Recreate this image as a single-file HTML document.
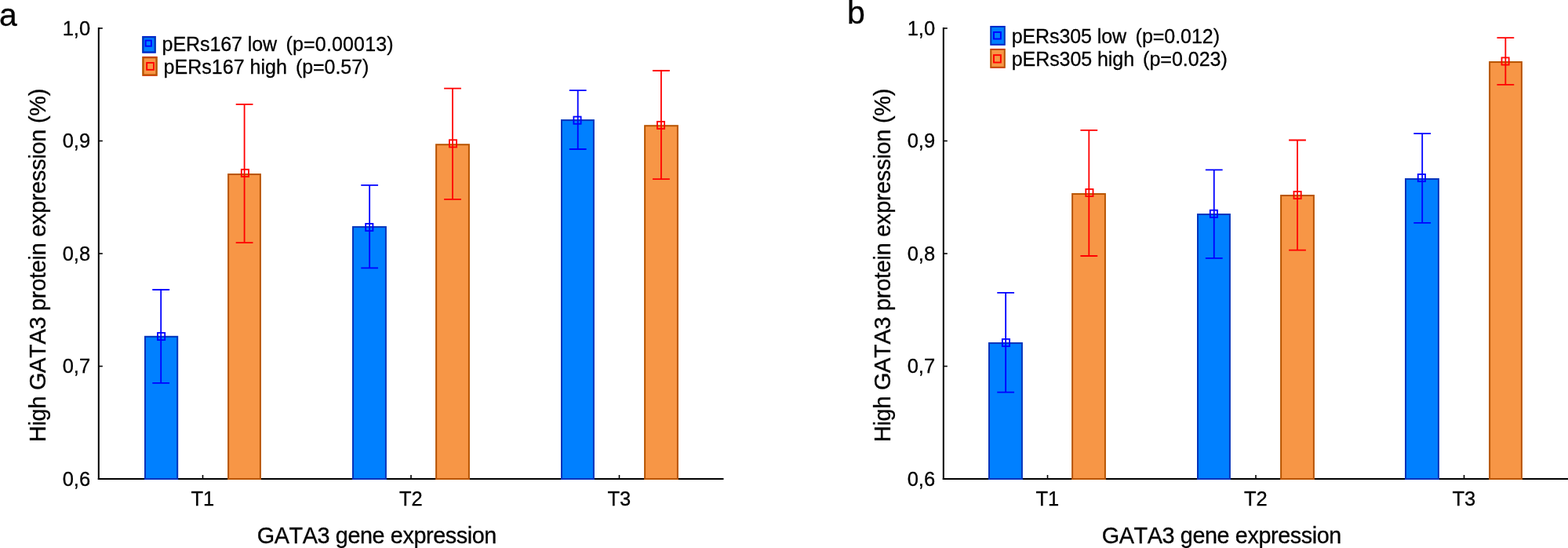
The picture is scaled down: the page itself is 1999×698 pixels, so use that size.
<!DOCTYPE html>
<html><head><meta charset="utf-8"><title>GATA3 protein expression</title>
<style>
html,body{margin:0;padding:0;background:#fff;}
body{width:1999px;height:698px;overflow:hidden;}
svg{display:block;}
text{font-family:'Liberation Sans', Arial, Helvetica, sans-serif;fill:#000;font-kerning:none;stroke:#000;stroke-width:0.3px;}
</style></head><body>
<svg width="1999" height="698" viewBox="0 0 1999 698">
<line x1="125.8" y1="35" x2="125.8" y2="611" stroke="#000" stroke-width="2"/>
<line x1="124.8" y1="610" x2="922.5" y2="610" stroke="#000" stroke-width="2"/>
<line x1="125.8" y1="36" x2="130.8" y2="36" stroke="#000" stroke-width="1.6"/>
<text x="115.1" y="44.6" font-size="25.5" text-anchor="end">1,0</text>
<line x1="125.8" y1="179.5" x2="130.8" y2="179.5" stroke="#000" stroke-width="1.6"/>
<text x="115.1" y="188.1" font-size="25.5" text-anchor="end">0,9</text>
<line x1="125.8" y1="323" x2="130.8" y2="323" stroke="#000" stroke-width="1.6"/>
<text x="115.1" y="331.6" font-size="25.5" text-anchor="end">0,8</text>
<line x1="125.8" y1="466.5" x2="130.8" y2="466.5" stroke="#000" stroke-width="1.6"/>
<text x="115.1" y="475.1" font-size="25.5" text-anchor="end">0,7</text>
<line x1="125.8" y1="610" x2="130.8" y2="610" stroke="#000" stroke-width="1.6"/>
<text x="115.1" y="618.6" font-size="25.5" text-anchor="end">0,6</text>
<line x1="258.5" y1="610" x2="258.5" y2="605" stroke="#000" stroke-width="1.6"/>
<text x="258.3" y="644" font-size="25.5" text-anchor="middle">T1</text>
<line x1="524" y1="610" x2="524" y2="605" stroke="#000" stroke-width="1.6"/>
<text x="523.8" y="644" font-size="25.5" text-anchor="middle">T2</text>
<line x1="789.5" y1="610" x2="789.5" y2="605" stroke="#000" stroke-width="1.6"/>
<text x="789.3" y="644" font-size="25.5" text-anchor="middle">T3</text>
<text transform="translate(57.9,563.1) rotate(-90)" font-size="28.8" textLength="450.33" lengthAdjust="spacing">High GATA3 protein expression (%)</text>
<text x="327.79" y="691.9" font-size="28.8" textLength="305.58" lengthAdjust="spacing">GATA3 gene expression</text>
<text x="-1.1" y="33" font-size="41">a</text>
<rect x="185" y="428.8" width="41.2" height="181.2" fill="#0080ff" stroke="#0033bb" stroke-width="2"/>
<path d="M205.2 369V487.8M194.3 369H216.1M194.3 487.8H216.1" stroke="#0000ff" stroke-width="1.8" fill="none"/>
<rect x="201" y="423.9" width="9.2" height="9.2" fill="none" stroke="#0000ff" stroke-width="1.8"/>
<rect x="291.1" y="222.05" width="40.8" height="387.95" fill="#f79646" stroke="#b85400" stroke-width="2"/>
<path d="M311.6 132.9V309.1M300.7 132.9H322.5M300.7 309.1H322.5" stroke="#ff0000" stroke-width="1.8" fill="none"/>
<rect x="307.8" y="215.8" width="9.2" height="9.2" fill="none" stroke="#ff0000" stroke-width="1.8"/>
<rect x="450" y="289.1" width="41.9" height="320.9" fill="#0080ff" stroke="#0033bb" stroke-width="2"/>
<path d="M471.15 235.9V341.3M460.25 235.9H482.05M460.25 341.3H482.05" stroke="#0000ff" stroke-width="1.8" fill="none"/>
<rect x="466.2" y="284.9" width="9.2" height="9.2" fill="none" stroke="#0000ff" stroke-width="1.8"/>
<rect x="556.1" y="184.2" width="41.8" height="425.8" fill="#f79646" stroke="#b85400" stroke-width="2"/>
<path d="M577 112.7V253.8M566.1 112.7H587.9M566.1 253.8H587.9" stroke="#ff0000" stroke-width="1.8" fill="none"/>
<rect x="572.9" y="178.25" width="9.2" height="9.2" fill="none" stroke="#ff0000" stroke-width="1.8"/>
<rect x="716" y="153.1" width="40.9" height="456.9" fill="#0080ff" stroke="#0033bb" stroke-width="2"/>
<path d="M736.7 115.1V190M725.8 115.1H747.6M725.8 190H747.6" stroke="#0000ff" stroke-width="1.8" fill="none"/>
<rect x="731.4" y="148.6" width="9.2" height="9.2" fill="none" stroke="#0000ff" stroke-width="1.8"/>
<rect x="822.1" y="160.2" width="41.8" height="449.8" fill="#f79646" stroke="#b85400" stroke-width="2"/>
<path d="M842.9 90V228.1M832 90H853.8M832 228.1H853.8" stroke="#ff0000" stroke-width="1.8" fill="none"/>
<rect x="837.9" y="154.85" width="9.2" height="9.2" fill="none" stroke="#ff0000" stroke-width="1.8"/>
<rect x="182.3" y="47.2" width="15.4" height="19.3" fill="#0080ff" stroke="#0033bb" stroke-width="2.4"/>
<path d="M181.7 46.4H198.3M181.7 67.3H198.3" stroke="#0000ff" stroke-width="0.8" stroke-opacity="0.55" fill="none"/>
<rect x="185.65" y="51.55" width="7.2" height="7.2" fill="none" stroke="#0000ff" stroke-width="1.9"/>
<text x="206.58" y="64.9" font-size="25" textLength="146.48" lengthAdjust="spacing">pERs167 low</text>
<text x="364.58" y="64.9" font-size="25" textLength="137.01" lengthAdjust="spacing">(p=0.00013)</text>
<rect x="182.4" y="73.2" width="17.2" height="22.4" fill="#f79646" stroke="#b85400" stroke-width="2.4"/>
<path d="M181.8 72.4H200.2M181.8 96.4H200.2" stroke="#ff0000" stroke-width="0.8" stroke-opacity="0.55" fill="none"/>
<rect x="187.15" y="79.95" width="8.8" height="8.9" fill="none" stroke="#ff0000" stroke-width="1.9"/>
<text x="208.58" y="93.9" font-size="25" textLength="157.33" lengthAdjust="spacing">pERs167 high</text>
<text x="376.88" y="93.9" font-size="25" textLength="93.45" lengthAdjust="spacing">(p=0.57)</text>
<line x1="1202.8" y1="35" x2="1202.8" y2="611" stroke="#000" stroke-width="2"/>
<line x1="1201.8" y1="610" x2="1999.5" y2="610" stroke="#000" stroke-width="2"/>
<line x1="1202.8" y1="36" x2="1207.8" y2="36" stroke="#000" stroke-width="1.6"/>
<text x="1192.1" y="44.6" font-size="25.5" text-anchor="end">1,0</text>
<line x1="1202.8" y1="179.5" x2="1207.8" y2="179.5" stroke="#000" stroke-width="1.6"/>
<text x="1192.1" y="188.1" font-size="25.5" text-anchor="end">0,9</text>
<line x1="1202.8" y1="323" x2="1207.8" y2="323" stroke="#000" stroke-width="1.6"/>
<text x="1192.1" y="331.6" font-size="25.5" text-anchor="end">0,8</text>
<line x1="1202.8" y1="466.5" x2="1207.8" y2="466.5" stroke="#000" stroke-width="1.6"/>
<text x="1192.1" y="475.1" font-size="25.5" text-anchor="end">0,7</text>
<line x1="1202.8" y1="610" x2="1207.8" y2="610" stroke="#000" stroke-width="1.6"/>
<text x="1192.1" y="618.6" font-size="25.5" text-anchor="end">0,6</text>
<line x1="1335.5" y1="610" x2="1335.5" y2="605" stroke="#000" stroke-width="1.6"/>
<text x="1335.3" y="644" font-size="25.5" text-anchor="middle">T1</text>
<line x1="1601" y1="610" x2="1601" y2="605" stroke="#000" stroke-width="1.6"/>
<text x="1600.8" y="644" font-size="25.5" text-anchor="middle">T2</text>
<line x1="1866.5" y1="610" x2="1866.5" y2="605" stroke="#000" stroke-width="1.6"/>
<text x="1866.3" y="644" font-size="25.5" text-anchor="middle">T3</text>
<text transform="translate(1134.9,563.1) rotate(-90)" font-size="28.8" textLength="450.33" lengthAdjust="spacing">High GATA3 protein expression (%)</text>
<text x="1404.79" y="691.9" font-size="28.8" textLength="305.58" lengthAdjust="spacing">GATA3 gene expression</text>
<text x="1080" y="30" font-size="41">b</text>
<rect x="1261" y="437.05" width="41.9" height="172.95" fill="#0080ff" stroke="#0033bb" stroke-width="2"/>
<path d="M1282.15 372.9V499.7M1271.25 372.9H1293.05M1271.25 499.7H1293.05" stroke="#0000ff" stroke-width="1.8" fill="none"/>
<rect x="1277.85" y="431.9" width="9.2" height="9.2" fill="none" stroke="#0000ff" stroke-width="1.8"/>
<rect x="1367.1" y="247.05" width="41.8" height="362.95" fill="#f79646" stroke="#b85400" stroke-width="2"/>
<path d="M1388.3 165.8V326M1377.4 165.8H1399.2M1377.4 326H1399.2" stroke="#ff0000" stroke-width="1.8" fill="none"/>
<rect x="1384.3" y="240.9" width="9.2" height="9.2" fill="none" stroke="#ff0000" stroke-width="1.8"/>
<rect x="1527" y="273.05" width="40.9" height="336.95" fill="#0080ff" stroke="#0033bb" stroke-width="2"/>
<path d="M1547.75 216.3V328.8M1536.85 216.3H1558.65M1536.85 328.8H1558.65" stroke="#0000ff" stroke-width="1.8" fill="none"/>
<rect x="1542.8" y="267.7" width="9.2" height="9.2" fill="none" stroke="#0000ff" stroke-width="1.8"/>
<rect x="1633.1" y="249.05" width="41.8" height="360.95" fill="#f79646" stroke="#b85400" stroke-width="2"/>
<path d="M1654 178.5V318.6M1643.1 178.5H1664.9M1643.1 318.6H1664.9" stroke="#ff0000" stroke-width="1.8" fill="none"/>
<rect x="1649.5" y="243.9" width="9.2" height="9.2" fill="none" stroke="#ff0000" stroke-width="1.8"/>
<rect x="1792" y="228.05" width="41.9" height="381.95" fill="#0080ff" stroke="#0033bb" stroke-width="2"/>
<path d="M1813.2 170.2V283.8M1802.3 170.2H1824.1M1802.3 283.8H1824.1" stroke="#0000ff" stroke-width="1.8" fill="none"/>
<rect x="1807.8" y="221.95" width="9.2" height="9.2" fill="none" stroke="#0000ff" stroke-width="1.8"/>
<rect x="1899.1" y="79.05" width="40.8" height="530.95" fill="#f79646" stroke="#b85400" stroke-width="2"/>
<path d="M1919.35 48.2V107.8M1908.45 48.2H1930.25M1908.45 107.8H1930.25" stroke="#ff0000" stroke-width="1.8" fill="none"/>
<rect x="1914.5" y="73.4" width="9.2" height="9.2" fill="none" stroke="#ff0000" stroke-width="1.8"/>
<rect x="1263.2" y="34" width="17.6" height="22.8" fill="#0080ff" stroke="#0033bb" stroke-width="2.0"/>
<path d="M1262.8 33.4H1281.2M1262.8 57.4H1281.2" stroke="#0000ff" stroke-width="0.8" stroke-opacity="0.55" fill="none"/>
<rect x="1266.95" y="40.95" width="8.9" height="8.6" fill="none" stroke="#0000ff" stroke-width="1.9"/>
<text x="1289.68" y="55" font-size="25" textLength="146.47" lengthAdjust="spacing">pERs305 low</text>
<text x="1447.58" y="55" font-size="25" textLength="107.49" lengthAdjust="spacing">(p=0.012)</text>
<rect x="1263.2" y="63" width="17.6" height="22.8" fill="#f79646" stroke="#b85400" stroke-width="2.0"/>
<path d="M1262.8 62.4H1281.2M1262.8 86.4H1281.2" stroke="#ff0000" stroke-width="0.8" stroke-opacity="0.55" fill="none"/>
<rect x="1266.95" y="70.15" width="8.9" height="9.4" fill="none" stroke="#ff0000" stroke-width="1.9"/>
<text x="1289.68" y="84" font-size="25" textLength="156.37" lengthAdjust="spacing">pERs305 high</text>
<text x="1457.08" y="84" font-size="25" textLength="107.77" lengthAdjust="spacing">(p=0.023)</text>
</svg>
</body></html>
